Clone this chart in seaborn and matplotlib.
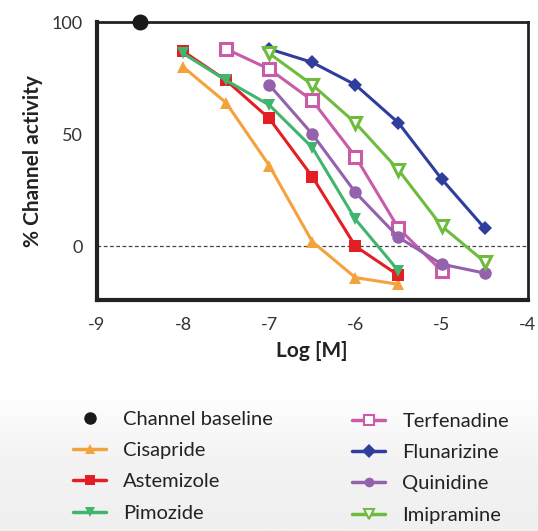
import numpy as np
import pandas as pd
import matplotlib
matplotlib.use("Agg")
import matplotlib.pyplot as plt
import seaborn as sns

# log concentration values and % channel activity
drugs = ['Cisapride', 'Astemizole', 'Pimozide', 'Terfenadine',
         'Flunarizine', 'Quinidine', 'Imipramine']
log_conc = {
    'Cisapride':   [-8, -7.5, -7, -6.5, -6, -5.5],
    'Astemizole':  [-8, -7.5, -7, -6.5, -6, -5.5],
    'Pimozide':    [-8, -7.5, -7, -6.5, -6, -5.5],
    'Terfenadine': [-7.5, -7, -6.5, -6, -5.5, -5],
    'Flunarizine': [-7, -6.5, -6, -5.5, -5, -4.5],
    'Quinidine':   [-7, -6.5, -6, -5.5, -5, -4.5],
    'Imipramine':  [-7, -6.5, -6, -5.5, -5, -4.5],
}
activity = {
    'Cisapride':   [80, 64, 36, 2, -14, -17],
    'Astemizole':  [87, 74, 57, 31, 0, -13],
    'Pimozide':    [86, 74, 63, 44, 12, -11],
    'Terfenadine': [88, 79, 65, 40, 8, -11],
    'Flunarizine': [88, 82, 72, 55, 30, 8],
    'Quinidine':   [72, 50, 24, 4, -8, -12],
    'Imipramine':  [86, 72, 55, 34, 9, -7],
}
baseline_x = [-8.5]
baseline_y = [100]

colors = {'Cisapride': '#F4A23C', 'Astemizole': '#E31E24', 'Pimozide': '#40B56E',
          'Terfenadine': '#C95BA9', 'Flunarizine': '#2F3E9C', 'Quinidine': '#9462AD',
          'Imipramine': '#6DBC3D'}
markers = {'Cisapride': '^', 'Astemizole': 's', 'Pimozide': 'v', 'Terfenadine': 's',
           'Flunarizine': 'D', 'Quinidine': 'o', 'Imipramine': 'v'}
open_markers = ['Terfenadine', 'Imipramine']

rows = []
for d in drugs:
    for x, y in zip(log_conc[d], activity[d]):
        rows.append({'Drug': d, 'LogM': x, 'Activity': y})
df = pd.DataFrame(rows)

sns.set_style("white")
plt.rcParams['font.family'] = ['Lato', 'DejaVu Sans']

fig = plt.figure(figsize=(5.38, 5.31), dpi=100)

# light gradient behind the legend
bg = fig.add_axes([0, 0, 1, 0.26], zorder=-10)
grad = np.linspace(0, 1, 100).reshape(-1, 1)
bg.imshow(grad, aspect='auto', cmap=matplotlib.colors.LinearSegmentedColormap.from_list(
    'g', ['#f0f0f0', '#f3f3f3', '#ffffff']), origin='lower', extent=[0, 1, 0, 1])
bg.axis('off')

ax = fig.add_axes([0.180, 0.435, 0.801, 0.5235])

handles = []
ax.scatter(baseline_x, baseline_y, s=110, color='#1a1a1a', zorder=5, clip_on=False)
handles.append(plt.Line2D([], [], marker='o', color='#1a1a1a', linestyle='none',
                          markersize=8, label='Channel baseline'))

for d in drugs:
    sub = df[df['Drug'] == d]
    face = 'white' if d in open_markers else colors[d]
    ms = 7.5 if markers[d] == 'D' else 9
    sns.lineplot(data=sub, x='LogM', y='Activity', ax=ax, color=colors[d],
                 marker=markers[d], markersize=ms, markerfacecolor=face,
                 markeredgecolor=colors[d], markeredgewidth=2.2 if d in open_markers else 0,
                 linewidth=2.2, legend=False)
    handles.append(plt.Line2D([], [], color=colors[d], marker=markers[d], markersize=7,
                              markerfacecolor=face, markeredgecolor=colors[d],
                              markeredgewidth=1.5 if d in open_markers else 0,
                              linewidth=2.5, label=d))

ax.axhline(0, color='#444444', linestyle=(0, (3, 2)), linewidth=0.9, zorder=1)

ax.set_xlim(-9, -4)
ax.set_ylim(-24, 100)
ax.set_xticks([-9, -8, -7, -6, -5, -4])
ax.set_xticklabels(['-9', '-8', '-7', '-6', '-5', '-4'])
ax.set_yticks([0, 50, 100])
ax.tick_params(direction='in', length=6, width=1.2, colors='#222222',
               labelsize=13, labelcolor='#333333', pad=10)
ax.tick_params(axis='x', pad=12)
for s in ['left', 'bottom']:
    ax.spines[s].set_linewidth(3)
    ax.spines[s].set_color('#222222')
for s in ['top', 'right']:
    ax.spines[s].set_linewidth(2)
    ax.spines[s].set_color('#222222')

ax.set_xlabel('Log [M]', fontsize=15, fontweight='bold', color='#222222', labelpad=6)
ax.set_ylabel('% Channel activity', fontsize=15, fontweight='bold', color='#222222',
              labelpad=6)

leg_kw = dict(frameon=False, fontsize=14.5, handlelength=1.65, handletextpad=0.85,
              labelspacing=0.7, borderpad=0, borderaxespad=0,
              labelcolor='#222222', loc='upper left')
fig.legend(handles=handles[:4], bbox_to_anchor=(73 / 538, 1 - 411 / 531), **leg_kw)
fig.legend(handles=handles[4:], bbox_to_anchor=(352 / 538, 1 - 413 / 531), **leg_kw)

fig.savefig('out.png', dpi=100)
